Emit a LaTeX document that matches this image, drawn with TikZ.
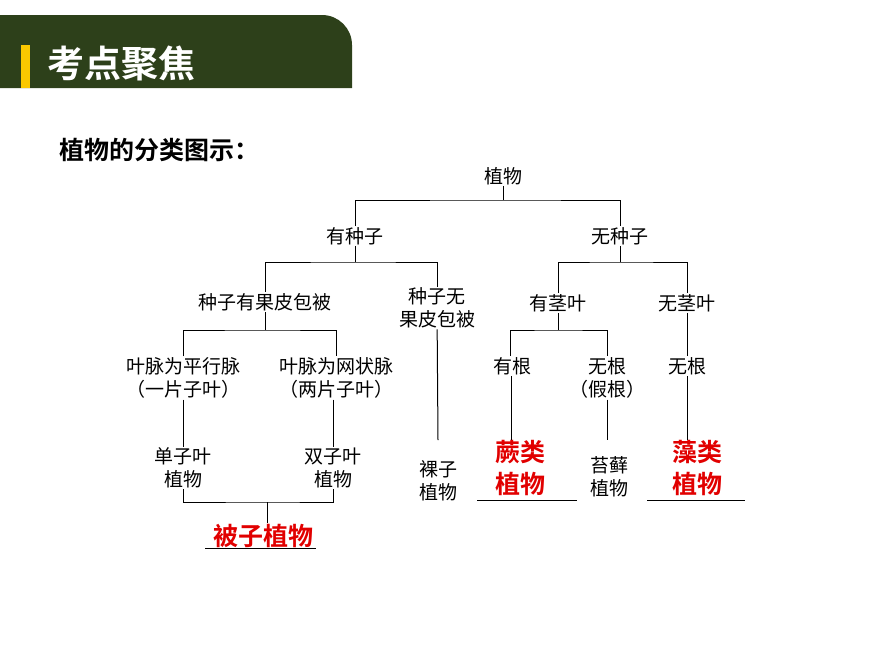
\documentclass[tikz,border=0pt]{standalone}
\usepackage{fontspec}
\setmainfont{Noto Sans CJK SC}[BoldFont={Noto Sans CJK SC Bold}]
\definecolor{headgreen}{RGB}{45,64,26}
\definecolor{baryellow}{RGB}{250,200,0}
\definecolor{keyred}{RGB}{225,0,0}
\tikzset{
  item/.style={align=center,inner sep=1pt,font=\fontsize{19}{23}\selectfont},
  key/.style={align=center,inner sep=1pt,text=keyred,font=\fontsize{25}{32}\selectfont\bfseries},
  link/.style={line width=1pt}
}
\begin{document}
\begin{tikzpicture}[x=1pt,y=-1pt]
        \useasboundingbox (0,0) rectangle (870,653);
        % header
        \fill[headgreen] (0,88) -- (0,15) [rounded corners=30pt]-- (352,15) [sharp corners]-- (352,88) -- cycle;
        \fill[baryellow] (21,45) rectangle (30,88);
        \node[text=white,font=\fontsize{37}{40}\selectfont\bfseries,anchor=west] (title) at (44,63) {考点聚焦};
        \node[font=\fontsize{25}{28}\selectfont\bfseries,anchor=west] (caption) at (56,150) {植物的分类图示：};
        % tree
        \node[item] (plant) at (503,176) {植物};
        \node[item] (seed) at (355,236) {有种子};
        \node[item] (noseed) at (620,236) {无种子};
        \node[item] (fruit) at (265,302) {种子有果皮包被};
        \node[item] (nofruit) at (437,308) {种子无\\果皮包被};
        \node[item] (stem) at (558,303) {有茎叶};
        \node[item] (nostem) at (687,303) {无茎叶};
        \node[item] (para) at (183,378) {叶脉为平行脉\\（一片子叶）};
        \node[item] (net) at (336,378) {叶脉为网状脉\\（两片子叶）};
        \node[item] (root) at (512,366) {有根};
        \node[item] (fake) at (607,378) {无根\\（假根）};
        \node[item] (noroot) at (687,366) {无根};
        \node[item] (mono) at (183,468) {单子叶\\植物};
        \node[item] (di) at (333,468) {双子叶\\植物};
        \node[item] (gymno) at (438,481) {裸子\\植物};
        \node[item] (moss) at (609,477) {苔藓\\植物};
        \node[key] (fern) at (520,468) {蕨类\\植物};
        \node[key] (alga) at (697,468) {藻类\\植物};
        \node[key] (angio) at (263,536) {被子植物};
        % connectors
        \coordinate (j1) at (503,200);
        \draw[link] (plant) -- (j1);
        \draw[link] (seed.north) |- (j1) -| (noseed.north);
        \coordinate (j2) at (355,262);
        \draw[link] (seed) -- (j2);
        \draw[link] (fruit.north) |- (j2) -| (nofruit.north);
        \coordinate (j3) at (620,262);
        \draw[link] (noseed) -- (j3);
        \draw[link] (stem.north) |- (j3) -| (nostem.north);
        \coordinate (j4) at (265,330);
        \draw[link] (fruit) -- (j4);
        \draw[link] (para.north) |- (j4) -| (net.north);
        \coordinate (j5) at (558,330);
        \draw[link] (stem) -- (j5);
        \draw[link] (root.north -| 510,0) |- (j5) -| (fake.north);
        \draw[link] (nostem) -- (noroot);
        \draw[link] (para) -- (mono);
        \draw[link] (net.south -| di) -- (di);
        \draw[link] (nofruit) -- (438,440);
        \draw[link] (root.south -| 511,0) -- (511,440);
        \draw[link] (fake) -- (607,440);
        \draw[link] (noroot) -- (687,440);
        \coordinate (j6) at (267,502);
        \draw[link] (mono.south) |- (j6) -| (di.south);
        \draw[link] (j6) -- (j6 |- angio.north);
        % underlines
        \draw[link] (205,548) -- (316,548);
        \draw[link] (477,500) -- (577,500);
        \draw[link] (647,500) -- (745,500);
\end{tikzpicture}
\end{document}
